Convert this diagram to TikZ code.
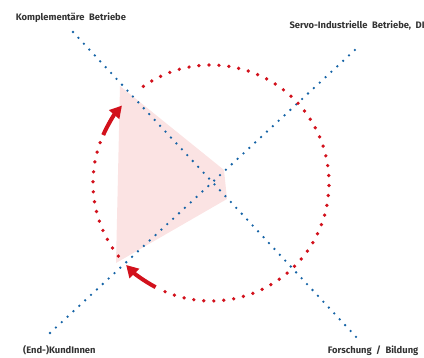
\documentclass[tikz,border=0pt]{standalone}
\usepackage{fontspec}
\setmainfont{Fira Sans}
\usetikzlibrary{positioning}
\usetikzlibrary{arrows.meta}
\definecolor{axisblue}{HTML}{1563A6}
\definecolor{cyclered}{HTML}{D2111C}
\definecolor{areapink}{HTML}{FBE3E3}
\definecolor{labelgrey}{HTML}{333333}
\def\radius{118}
\tikzset{
axisline/.style={axisblue, line width=2.6pt, line cap=round, dash pattern=on 0pt off 8pt},
cyclearc/.style={cyclered, line width=3.7pt, line cap=round, dash pattern=on 0pt off 10pt},
cyclearrow/.style={cyclered, line width=4pt, -{Triangle[length=12pt,width=13pt]}},
quadrant/.style={font=\bfseries\fontsize{9.4}{10}\selectfont, text=labelgrey, inner sep=0pt, anchor=west},
}

\begin{document}
\begin{tikzpicture}[x=1pt,y=1pt]
\useasboundingbox (0,0) rectangle (424,358);
\coordinate (c) at (211,175);

%
\fill[areapink] (120,272) -- (224,188) -- (227,159) -- (116,95) -- cycle;

%
\coordinate (a1) at (73,326);
\coordinate (a2) at (358,19);
\coordinate (b1) at (50,25);
\coordinate (b2) at (357,310);
\draw[axisline] (a1) -- (a2);
\draw[axisline] (b1) -- (b2);

%
\draw[cyclearc] (c) ++(125:\radius) arc[start angle=125, end angle=-114, radius=\radius];
\draw[cyclearc] (c) ++(160:\radius) arc[start angle=160, end angle=221, radius=\radius];
\draw[cyclearrow] (c) ++(156:\radius) arc[start angle=156, end angle=139, radius=\radius];
\draw[cyclearrow] (c) ++(242:\radius) arc[start angle=242, end angle=224, radius=\radius];

%
\node[quadrant] (komp) at (15.7,340.3) {Komplementäre~ Betriebe};
\node[quadrant] (servo) at (289.3,332.3) {Servo-Industrielle~ Betriebe,~ DI};
\node[quadrant] (kunden) at (23,7.3) {(End-)KundInnen};
\node[quadrant] (forsch) at (327.7,7.3) {Forschung~ /~ Bildung};
\end{tikzpicture}
\end{document}
